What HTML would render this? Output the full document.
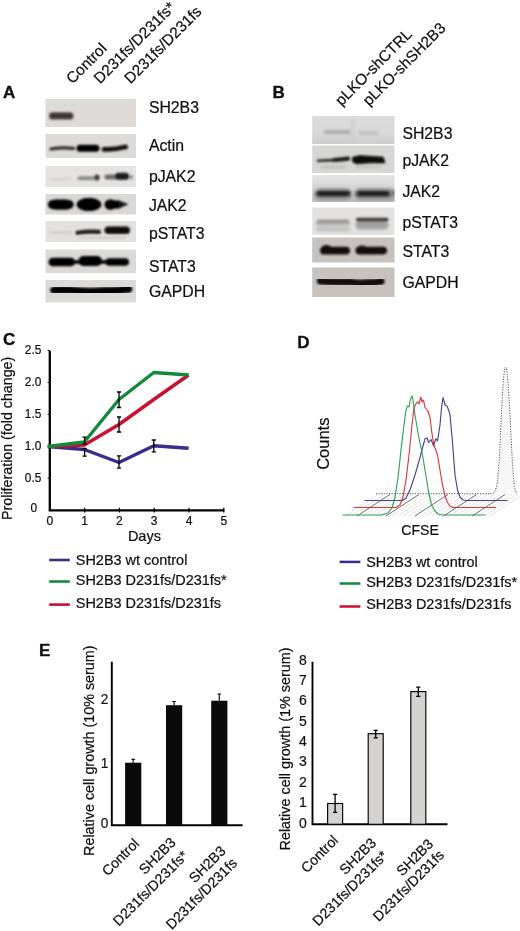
<!DOCTYPE html>
<html><head><meta charset="utf-8"><title>Figure</title>
<style>
html,body{margin:0;padding:0;background:#fff;width:520px;height:931px;overflow:hidden;}
svg{display:block;opacity:0.999;font-family:"Liberation Sans",Arial,sans-serif;fill:#111;}
text{stroke:#111;stroke-width:0.22px;}
.b{font-weight:bold;stroke:#111;stroke-width:0.35px;}
</style></head><body>
<svg width="520" height="931" viewBox="0 0 520 931">
<defs>
<filter id="bl" x="-20%" y="-50%" width="140%" height="200%"><feGaussianBlur stdDeviation="1.1"/></filter>
<filter id="bl2" x="-20%" y="-80%" width="140%" height="260%"><feGaussianBlur stdDeviation="1.8"/></filter>
<filter id="bl3" x="-20%" y="-80%" width="140%" height="260%"><feGaussianBlur stdDeviation="0.7"/></filter>
<linearGradient id="gj" x1="0" y1="0" x2="0" y2="1"><stop offset="0" stop-color="#e6e6e6"/><stop offset="0.45" stop-color="#d6d6d6"/><stop offset="1" stop-color="#bcbcbc"/></linearGradient>
<linearGradient id="g1" x1="0" y1="0" x2="0" y2="1"><stop offset="0" stop-color="#dcdcdc"/><stop offset="0.6" stop-color="#d8d8d8"/><stop offset="1" stop-color="#cdcdcd"/></linearGradient>
</defs>
<rect width="520" height="931" fill="#fff"/>

<text class="b" x="3" y="98" font-size="17">A</text>
<text transform="translate(72.5,84.5) rotate(-45)" font-size="15.4">Control</text>
<text transform="translate(100,84.5) rotate(-45)" font-size="15.4">D231fs/D231fs*</text>
<text transform="translate(130.5,84.5) rotate(-45)" font-size="15.4">D231fs/D231fs</text>
<clipPath id="a1"><rect x="45.5" y="99" width="90.5" height="28"/></clipPath>
<rect x="45.5" y="99" width="90.5" height="28" fill="#dedad8"/>
<g clip-path="url(#a1)">
<g filter="url(#bl)">
<rect x="49" y="112.30" width="24.50" height="7.2" rx="3.60" fill="#4c4442" opacity="1"/>
<rect x="51" y="114.30" width="21.00" height="3.4" rx="1.70" fill="#3a3230" opacity="1"/>
</g>
</g>
<clipPath id="a2"><rect x="45.5" y="134" width="90.5" height="24"/></clipPath>
<rect x="45.5" y="134" width="90.5" height="24" fill="#dddbd9"/>
<g clip-path="url(#a2)">
<g filter="url(#bl)">
<path d="M51,149 Q62,147 73.5,148.4" stroke="#2a2a2a" stroke-width="3.2" fill="none" stroke-linecap="round"/>
<rect x="76.5" y="144.80" width="23.00" height="7" rx="3.50" fill="#060606" opacity="1"/>
<path d="M104,149.3 Q114,149.8 125.5,147" stroke="#0a0a0a" stroke-width="4.8" fill="none" stroke-linecap="round"/>
</g>
</g>
<clipPath id="a3"><rect x="45.5" y="166" width="90.5" height="21"/></clipPath>
<rect x="45.5" y="166" width="90.5" height="21" fill="#e5e3e1"/>
<g clip-path="url(#a3)">
<g filter="url(#bl)">
<rect x="50" y="178.00" width="22.00" height="2" rx="1.00" fill="#d0cecc" opacity="1"/>
<rect x="77.5" y="176.30" width="21.50" height="4" rx="2.00" fill="#8d8d8d" opacity="1"/>
<ellipse cx="97" cy="177.6" rx="2.6" ry="3" fill="#3a3a3a" opacity="1"/>
<rect x="104.5" y="174.50" width="25.00" height="5" rx="2.50" fill="#6a6a6a" opacity="1"/>
<rect x="115" y="172.70" width="14.00" height="7" rx="3.50" fill="#1e1e1e" opacity="1"/>
<ellipse cx="131.5" cy="177" rx="0.9" ry="2.5" fill="#555" opacity="1"/>
</g>
</g>
<clipPath id="a4"><rect x="45.5" y="194" width="90.5" height="20.5"/></clipPath>
<rect x="45.5" y="194" width="90.5" height="20.5" fill="#dad8d6"/>
<g clip-path="url(#a4)">
<g filter="url(#bl)">
<rect x="48" y="200.25" width="25.50" height="8.5" rx="4.25" fill="#040404" opacity="1"/>
<ellipse cx="57.45" cy="204.5" rx="9.450000000000001" ry="5.25" fill="#040404" opacity="1"/>
<ellipse cx="64.05" cy="204.5" rx="9.450000000000001" ry="5.25" fill="#040404" opacity="1"/>
<rect x="78" y="198.75" width="22.00" height="11.5" rx="5.75" fill="#040404" opacity="1"/>
<ellipse cx="89.7" cy="204.5" rx="11.700000000000001" ry="6.5" fill="#040404" opacity="1"/>
<ellipse cx="88.3" cy="204.5" rx="11.700000000000001" ry="6.5" fill="#040404" opacity="1"/>
<ellipse cx="110.5" cy="204.5" rx="6" ry="5.3" fill="#040404" opacity="1"/>
<rect x="105" y="200.50" width="17.00" height="8" rx="4.00" fill="#040404" opacity="1"/>
<path d="M118,200.5 L128.5,204.3 L118,208.5 Z" fill="#080808"/>
</g>
</g>
<clipPath id="a5"><rect x="45.5" y="221" width="90.5" height="21"/></clipPath>
<rect x="45.5" y="221" width="90.5" height="21" fill="#e3e1df"/>
<g clip-path="url(#a5)">
<g filter="url(#bl)">
<rect x="50" y="231.70" width="22.00" height="1.6" rx="0.80" fill="#c2c0be" opacity="1"/>
<path d="M77.5,232.8 Q88,231 99,231.8" stroke="#1c1c1c" stroke-width="4.2" fill="none" stroke-linecap="round"/>
<rect x="104.5" y="226.40" width="25.50" height="7.6" rx="3.80" fill="#0c0c0c" opacity="1"/>
<rect x="78" y="236.80" width="48.00" height="1.6" rx="0.80" fill="#c9c7c5" opacity="1"/>
</g>
</g>
<clipPath id="a6"><rect x="45.5" y="249.5" width="90.5" height="23.5"/></clipPath>
<rect x="45.5" y="249.5" width="90.5" height="23.5" fill="#dcdad8"/>
<g clip-path="url(#a6)">
<g filter="url(#bl)">
<rect x="48.5" y="257.70" width="26.50" height="8.6" rx="4.30" fill="#060606" opacity="1"/>
<rect x="78.5" y="256.00" width="23.50" height="10" rx="5.00" fill="#060606" opacity="1"/>
<rect x="105.5" y="258.20" width="23.50" height="7.6" rx="3.80" fill="#060606" opacity="1"/>
<rect x="70" y="260.25" width="40.00" height="3.5" rx="1.75" fill="#060606" opacity="1"/>
</g>
</g>
<clipPath id="a7"><rect x="45.5" y="280" width="90.5" height="22.5"/></clipPath>
<rect x="45.5" y="280" width="90.5" height="22.5" fill="#dcdad8"/>
<g clip-path="url(#a7)">
<g filter="url(#bl)">
<path d="M54,290.2 Q64,289.3 77,290.8 Q90,292.3 104,290.8 Q118,291.3 128.5,289" stroke="#060606" stroke-width="7.6" fill="none" stroke-linecap="round"/>
</g>
</g>
<text x="148.9" y="112.7" font-size="15.8">SH2B3</text>
<text x="148.9" y="150.5" font-size="15.8">Actin</text>
<text x="148.9" y="181.7" font-size="15.8">pJAK2</text>
<text x="148.9" y="210.7" font-size="15.8">JAK2</text>
<text x="148.9" y="239.2" font-size="15.8">pSTAT3</text>
<text x="148.9" y="271.6" font-size="15.8">STAT3</text>
<text x="148.9" y="296.7" font-size="15.8">GAPDH</text>
<text class="b" x="272.6" y="98" font-size="17">B</text>
<text transform="translate(341.5,106.5) rotate(-45)" font-size="15.4">pLKO-shCTRL</text>
<text transform="translate(369,106.5) rotate(-45)" font-size="15.4">pLKO-shSH2B3</text>
<clipPath id="b1"><rect x="312.2" y="116" width="82.30000000000001" height="28"/></clipPath>
<rect x="312.2" y="116" width="82.30000000000001" height="28" fill="url(#g1)"/>
<g clip-path="url(#b1)">
<g filter="url(#bl2)">
<rect x="324" y="130.60" width="26.50" height="3.2" rx="1.60" fill="#a2a2a2" opacity="1"/>
<rect x="358.5" y="131.70" width="20.00" height="2.6" rx="1.30" fill="#b2b2b2" opacity="1"/>
<rect x="350.5" y="116.00" width="4.50" height="28" rx="14.00" fill="#c8c8c8" opacity="0.5"/>
</g>
</g>
<clipPath id="b2"><rect x="312.2" y="145.5" width="82.30000000000001" height="27.5"/></clipPath>
<rect x="312.2" y="145.5" width="82.30000000000001" height="27.5" fill="#d6d6d5"/>
<g clip-path="url(#b2)">
<g filter="url(#bl)">
<path d="M318,160.8 Q332,160.6 348.5,158.6" stroke="#262626" stroke-width="2.6" fill="none" stroke-linecap="round"/>
<path d="M334,160 Q342,159.6 348,158.6" stroke="#1c1c1c" stroke-width="4.2" fill="none" stroke-linecap="round"/>
<path d="M353,157.6 L360,156 L383,157.6 L384.5,162.5 L370,162.6 L356,163.4 L352.6,161 Z" fill="#080808" stroke="#080808" stroke-width="1.5" stroke-linejoin="round"/>
</g>
<g filter="url(#bl2)">
<rect x="321" y="166.10" width="25.00" height="1.8" rx="0.90" fill="#b4b4b4" opacity="1"/>
<rect x="356" y="165.70" width="24.00" height="1.8" rx="0.90" fill="#b4b4b4" opacity="1"/>
</g>
</g>
<clipPath id="b3"><rect x="312.2" y="175" width="82.30000000000001" height="27"/></clipPath>
<rect x="312.2" y="175" width="82.30000000000001" height="27" fill="url(#gj)"/>
<g clip-path="url(#b3)">
<g filter="url(#bl2)">
<rect x="314" y="187.90" width="38.00" height="13" rx="6.50" fill="#9a9a9a" opacity="0.8"/>
<rect x="354" y="187.90" width="43.00" height="13" rx="6.50" fill="#9a9a9a" opacity="0.8"/>
<rect x="315.5" y="190.30" width="35.50" height="7" rx="3.50" fill="#404040" opacity="1"/>
<rect x="355.5" y="190.30" width="35.50" height="7" rx="3.50" fill="#404040" opacity="1"/>
</g>
<g filter="url(#bl)">
<rect x="318" y="192.10" width="31.00" height="3" rx="1.50" fill="#1c1c1c" opacity="1"/>
<rect x="358" y="192.10" width="30.00" height="3" rx="1.50" fill="#1c1c1c" opacity="1"/>
<rect x="392.5" y="190.50" width="2.00" height="5" rx="2.50" fill="#555" opacity="1"/>
</g>
</g>
<clipPath id="b4"><rect x="312.2" y="207.5" width="82.30000000000001" height="27.5"/></clipPath>
<rect x="312.2" y="207.5" width="82.30000000000001" height="27.5" fill="#e3e1e0"/>
<g clip-path="url(#b4)">
<g filter="url(#bl2)">
<rect x="316" y="219.90" width="34.00" height="5" rx="2.50" fill="#a4a4a4" opacity="1"/>
<rect x="316" y="226.50" width="34.00" height="5" rx="2.50" fill="#c2c2c2" opacity="1"/>
<rect x="355.5" y="220.50" width="33.00" height="9" rx="4.50" fill="#a2a2a2" opacity="1"/>
</g>
<g filter="url(#bl)">
<rect x="356" y="217.80" width="32.50" height="3.6" rx="1.80" fill="#3c3c3c" opacity="1"/>
<rect x="318" y="220.20" width="30.00" height="1.6" rx="0.80" fill="#8c8c8c" opacity="1"/>
</g>
</g>
<clipPath id="b5"><rect x="312.2" y="237.5" width="82.30000000000001" height="25.0"/></clipPath>
<rect x="312.2" y="237.5" width="82.30000000000001" height="25.0" fill="#c8c2be"/>
<g clip-path="url(#b5)">
<g filter="url(#bl)">
<rect x="320" y="246.70" width="30.00" height="7.8" rx="3.90" fill="#140e0e" opacity="1"/>
<ellipse cx="326.5" cy="249.4" rx="5.5" ry="4.3" fill="#140e0e" opacity="1"/>
<rect x="355.5" y="246.80" width="31.50" height="7.6" rx="3.80" fill="#140e0e" opacity="1"/>
<ellipse cx="362" cy="249.6" rx="5.5" ry="4.2" fill="#140e0e" opacity="1"/>
</g>
</g>
<clipPath id="b6"><rect x="312.2" y="267.5" width="82.30000000000001" height="29.5"/></clipPath>
<rect x="312.2" y="267.5" width="82.30000000000001" height="29.5" fill="#c8c2be"/>
<g clip-path="url(#b6)">
<g filter="url(#bl)">
<path d="M320.5,281 Q333,282.4 350,281.8 Q357,284.2 366,282.8 Q376,282.8 381,281.2" stroke="#140e0e" stroke-width="7.4" fill="none" stroke-linecap="round"/>
</g>
</g>
<text x="402.4" y="138.9" font-size="15.8">SH2B3</text>
<text x="402.4" y="166" font-size="15.8">pJAK2</text>
<text x="402.4" y="197.4" font-size="15.8">JAK2</text>
<text x="402.4" y="228" font-size="15.8">pSTAT3</text>
<text x="402.4" y="257.4" font-size="15.8">STAT3</text>
<text x="402.4" y="288.1" font-size="15.8">GAPDH</text>
<text class="b" x="3" y="345" font-size="17">C</text>
<path d="M49.8,351 V510.3 H224.3" fill="none" stroke="#000" stroke-width="2.3"/>
<line x1="84.6" y1="507.8" x2="84.6" y2="512.6" stroke="#000" stroke-width="1.2"/>
<line x1="119.4" y1="507.8" x2="119.4" y2="512.6" stroke="#000" stroke-width="1.2"/>
<line x1="154.2" y1="507.8" x2="154.2" y2="512.6" stroke="#000" stroke-width="1.2"/>
<line x1="189.0" y1="507.8" x2="189.0" y2="512.6" stroke="#000" stroke-width="1.2"/>
<line x1="223.8" y1="507.8" x2="223.8" y2="512.6" stroke="#000" stroke-width="1.2"/>
<text x="37" y="511.8" font-size="11.9" text-anchor="end">0</text>
<line x1="47.599999999999994" y1="478.1" x2="49.8" y2="478.1" stroke="#000" stroke-width="1"/>
<text x="41.3" y="481.9" font-size="11.9" text-anchor="end">0.5</text>
<line x1="47.599999999999994" y1="446.2" x2="49.8" y2="446.2" stroke="#000" stroke-width="1"/>
<text x="41.3" y="450.0" font-size="11.9" text-anchor="end">1.0</text>
<line x1="47.599999999999994" y1="414.3" x2="49.8" y2="414.3" stroke="#000" stroke-width="1"/>
<text x="41.3" y="418.1" font-size="11.9" text-anchor="end">1.5</text>
<line x1="47.599999999999994" y1="382.4" x2="49.8" y2="382.4" stroke="#000" stroke-width="1"/>
<text x="41.3" y="386.2" font-size="11.9" text-anchor="end">2.0</text>
<line x1="47.599999999999994" y1="350.5" x2="49.8" y2="350.5" stroke="#000" stroke-width="1"/>
<text x="41.3" y="354.3" font-size="11.9" text-anchor="end">2.5</text>
<text x="49.8" y="524.6" font-size="12" text-anchor="middle">0</text>
<text x="84.6" y="524.6" font-size="12" text-anchor="middle">1</text>
<text x="119.4" y="524.6" font-size="12" text-anchor="middle">2</text>
<text x="154.2" y="524.6" font-size="12" text-anchor="middle">3</text>
<text x="189.0" y="524.6" font-size="12" text-anchor="middle">4</text>
<text x="223.8" y="524.6" font-size="12" text-anchor="middle">5</text>
<text x="144.4" y="540.8" font-size="14.5" text-anchor="middle">Days</text>
<text transform="translate(12,438.3) rotate(-90)" font-size="14.25" text-anchor="middle">Proliferation (fold change)</text>
<polyline points="47.8,446.5 84.3,449.5 119,462.5 153.8,445.8 188.6,448.2" fill="none" stroke="#3a2b8f" stroke-width="3.4" stroke-linejoin="round"/>
<polyline points="47.8,446.5 84.3,445 119,424.5 153.8,399.5 188.6,375" fill="none" stroke="#c9102f" stroke-width="3.4" stroke-linejoin="round"/>
<polyline points="47.8,446.5 84.3,442 119,399.5 153.8,372.5 188.6,375" fill="none" stroke="#128a3c" stroke-width="3.4" stroke-linejoin="round"/>
<path d="M84.6,437.2 V444.2 M82.5,437.2 H86.69999999999999 M82.5,444.2 H86.69999999999999" stroke="#000" stroke-width="1.3" fill="none"/>
<path d="M84.6,448.5 V456.2 M82.5,448.5 H86.69999999999999 M82.5,456.2 H86.69999999999999" stroke="#000" stroke-width="1.3" fill="none"/>
<path d="M119,392 V407.5 M116.9,392 H121.1 M116.9,407.5 H121.1" stroke="#000" stroke-width="1.3" fill="none"/>
<path d="M119,417 V432 M116.9,417 H121.1 M116.9,432 H121.1" stroke="#000" stroke-width="1.3" fill="none"/>
<path d="M119,455.8 V468.2 M116.9,455.8 H121.1 M116.9,468.2 H121.1" stroke="#000" stroke-width="1.3" fill="none"/>
<path d="M153.8,440 V451.8 M151.70000000000002,440 H155.9 M151.70000000000002,451.8 H155.9" stroke="#000" stroke-width="1.3" fill="none"/>
<line x1="49.2" y1="560" x2="69.8" y2="560" stroke="#3a2b8f" stroke-width="2.6"/>
<text x="75.8" y="564.8" font-size="14.45">SH2B3 wt control</text>
<line x1="49.2" y1="581.5" x2="69.8" y2="581.5" stroke="#128a3c" stroke-width="2.6"/>
<text x="75.8" y="585.2" font-size="14.45">SH2B3 D231fs/D231fs*</text>
<line x1="49.2" y1="604.6" x2="69.8" y2="604.6" stroke="#c9102f" stroke-width="2.6"/>
<text x="75.8" y="607.5" font-size="14.45">SH2B3 D231fs/D231fs</text>
<text class="b" x="297.3" y="348.3" font-size="17">D</text>
<text transform="translate(329,443.7) rotate(-90)" font-size="16.5" text-anchor="middle">Counts</text>
<text x="420" y="535.4" font-size="14.1" text-anchor="middle">CFSE</text>
<line x1="345.0" y1="516" x2="378.0" y2="494.5" stroke="#d0d0d0" stroke-width="0.6"/>
<line x1="350.8" y1="516" x2="383.8" y2="494.5" stroke="#d0d0d0" stroke-width="0.6"/>
<line x1="356.6" y1="516" x2="389.6" y2="494.5" stroke="#d0d0d0" stroke-width="0.6"/>
<line x1="362.4" y1="516" x2="395.4" y2="494.5" stroke="#d0d0d0" stroke-width="0.6"/>
<line x1="368.2" y1="516" x2="401.2" y2="494.5" stroke="#d0d0d0" stroke-width="0.6"/>
<line x1="374.0" y1="516" x2="407.0" y2="494.5" stroke="#d0d0d0" stroke-width="0.6"/>
<line x1="379.8" y1="516" x2="412.8" y2="494.5" stroke="#d0d0d0" stroke-width="0.6"/>
<line x1="385.6" y1="516" x2="418.6" y2="494.5" stroke="#d0d0d0" stroke-width="0.6"/>
<line x1="391.4" y1="516" x2="424.4" y2="494.5" stroke="#d0d0d0" stroke-width="0.6"/>
<line x1="397.2" y1="516" x2="430.2" y2="494.5" stroke="#d0d0d0" stroke-width="0.6"/>
<line x1="403.0" y1="516" x2="436.0" y2="494.5" stroke="#d0d0d0" stroke-width="0.6"/>
<line x1="408.8" y1="516" x2="441.8" y2="494.5" stroke="#d0d0d0" stroke-width="0.6"/>
<line x1="414.6" y1="516" x2="447.6" y2="494.5" stroke="#d0d0d0" stroke-width="0.6"/>
<line x1="420.4" y1="516" x2="453.4" y2="494.5" stroke="#d0d0d0" stroke-width="0.6"/>
<line x1="426.2" y1="516" x2="459.2" y2="494.5" stroke="#d0d0d0" stroke-width="0.6"/>
<line x1="432.0" y1="516" x2="465.0" y2="494.5" stroke="#d0d0d0" stroke-width="0.6"/>
<line x1="437.8" y1="516" x2="470.8" y2="494.5" stroke="#d0d0d0" stroke-width="0.6"/>
<line x1="443.6" y1="516" x2="476.6" y2="494.5" stroke="#d0d0d0" stroke-width="0.6"/>
<line x1="449.4" y1="516" x2="482.4" y2="494.5" stroke="#d0d0d0" stroke-width="0.6"/>
<line x1="455.2" y1="516" x2="488.2" y2="494.5" stroke="#d0d0d0" stroke-width="0.6"/>
<line x1="461.0" y1="516" x2="494.0" y2="494.5" stroke="#d0d0d0" stroke-width="0.6"/>
<line x1="466.8" y1="516" x2="499.8" y2="494.5" stroke="#d0d0d0" stroke-width="0.6"/>
<line x1="472.6" y1="516" x2="505.6" y2="494.5" stroke="#d0d0d0" stroke-width="0.6"/>
<line x1="478.4" y1="516" x2="511.4" y2="494.5" stroke="#d0d0d0" stroke-width="0.6"/>
<line x1="484.2" y1="516" x2="517.2" y2="494.5" stroke="#d0d0d0" stroke-width="0.6"/>
<line x1="490.0" y1="516" x2="523.0" y2="494.5" stroke="#d0d0d0" stroke-width="0.6"/>
<line x1="357" y1="516" x2="390" y2="494.5" stroke="#555" stroke-width="0.8"/>
<line x1="386" y1="516" x2="419" y2="494.5" stroke="#555" stroke-width="0.8"/>
<line x1="415" y1="516" x2="448" y2="494.5" stroke="#555" stroke-width="0.8"/>
<line x1="443.5" y1="516" x2="476.5" y2="494.5" stroke="#555" stroke-width="0.8"/>
<line x1="472" y1="516" x2="505" y2="494.5" stroke="#555" stroke-width="0.8"/>
<path d="M376,493.7 H492 C497,493 498,480 499.5,455 C501.5,415 503,368 505.6,367 C508,368 510,415 512,455 C513.5,480 514.5,492 517,493.5 Z" fill="#f7f7f7" stroke="none"/>
<path d="M376,493.7 H492 C497,493 498,480 499.5,455 C501.5,415 503,368 505.6,367 C508,368 510,415 512,455 C513.5,480 514.5,492 517,493.5" fill="none" stroke="#444" stroke-width="0.9" stroke-dasharray="1.2,1.4"/>
<polyline points="364.5,500.5 402.5,500.5 406,498 410,490 415,475 420,457.5 423,446 425,438.7 427,438 428.7,442.5 431,439.5 433.7,446 435,441 436,438.7 437.5,441 440,425 441.5,408 443,397.5 444,401 445,405 447,406 449,411 450,415 452.5,442.5 455,475 457.5,490 460,497 463,500 466,500.5 507.5,500.5" fill="none" stroke="#3a2b8f" stroke-width="1.15" stroke-linejoin="round" opacity="0.9"/>
<polyline points="353.7,507.5 396,507.5 400,505 403,497 406,480 409,455 412,425 414,408 416,403.7 417.5,402 419,404 420.7,397 422,402 423.5,400 425,407.5 428,411 430,417.5 431.5,430 433.7,445 435.5,449 437.5,455 440,470 442.5,485 445,496 447.5,502.5 450,506 453,507.5 496,507.5" fill="none" stroke="#d8232a" stroke-width="1.15" stroke-linejoin="round" opacity="0.9"/>
<polyline points="342.5,515 382,515 388,513 392,508 395,497 398,478 401,450 404,425 406,410 407.5,406 409,407 410.5,399 412,396 413,400 415,415 417.5,430 420,443 422.5,455 425,470 428.7,492.5 431.5,505 435,511 438,514 442,515 485.5,515" fill="none" stroke="#1a9a44" stroke-width="1.15" stroke-linejoin="round" opacity="0.9"/>
<line x1="339.6" y1="561.9" x2="360.4" y2="561.9" stroke="#3a2b8f" stroke-width="2.5"/>
<text x="366.2" y="566.5" font-size="14.45">SH2B3 wt control</text>
<line x1="339.6" y1="583.5" x2="360.4" y2="583.5" stroke="#128a3c" stroke-width="2.5"/>
<text x="366.2" y="587" font-size="14.45">SH2B3 D231fs/D231fs*</text>
<line x1="339.6" y1="606.5" x2="360.4" y2="606.5" stroke="#c9102f" stroke-width="2.5"/>
<text x="366.2" y="609.4" font-size="14.45">SH2B3 D231fs/D231fs</text>
<text class="b" x="38.9" y="655.8" font-size="17">E</text>
<path d="M111.8,661.7 V825.2 H242.6" fill="none" stroke="#000" stroke-width="1.9"/>
<text x="108.3" y="703.7" font-size="15.3" text-anchor="end" textLength="7.6" lengthAdjust="spacingAndGlyphs">2</text>
<text x="108.3" y="768.2" font-size="15.3" text-anchor="end" textLength="7.6" lengthAdjust="spacingAndGlyphs">1</text>
<text x="108.3" y="828.2" font-size="15.3" text-anchor="end" textLength="7.6" lengthAdjust="spacingAndGlyphs">0</text>
<text transform="translate(94.3,750.7) rotate(-90)" font-size="14.35" text-anchor="middle">Relative cell growth (10% serum)</text>
<rect x="125.1" y="762.7" width="16.2" height="62.5" fill="#0a0a0a"/>
<path d="M133.2,762.7 V759.3 M131.39999999999998,759.3 H135.0" stroke="#111" stroke-width="1.2" fill="none"/>
<rect x="166" y="705.2" width="16.2" height="120.0" fill="#0a0a0a"/>
<path d="M174.1,705.2 V701.5 M172.29999999999998,701.5 H175.9" stroke="#111" stroke-width="1.2" fill="none"/>
<rect x="211.2" y="700.7" width="16.2" height="124.5" fill="#0a0a0a"/>
<path d="M219.3,700.7 V694 M217.5,694 H221.10000000000002" stroke="#111" stroke-width="1.2" fill="none"/>
<text transform="translate(140,844.5) rotate(-45)" font-size="14.2" text-anchor="end">Control</text>
<text transform="translate(176.5,843.5) rotate(-45)" font-size="14.2" text-anchor="end">SH2B3</text>
<text transform="translate(189,856.5) rotate(-45)" font-size="14.2" text-anchor="end">D231fs/D231fs*</text>
<text transform="translate(226.5,852) rotate(-45)" font-size="14.2" text-anchor="end">SH2B3</text>
<text transform="translate(238,864) rotate(-45)" font-size="14.2" text-anchor="end">D231fs/D231fs</text>
<path d="M312.5,661.7 V824.3 H447.5" fill="none" stroke="#000" stroke-width="1.9"/>
<text x="306.8" y="827.5" font-size="15.3" text-anchor="end" textLength="7.8" lengthAdjust="spacingAndGlyphs">0</text>
<text x="306.8" y="807.1" font-size="15.3" text-anchor="end" textLength="7.8" lengthAdjust="spacingAndGlyphs">1</text>
<text x="306.8" y="786.8" font-size="15.3" text-anchor="end" textLength="7.8" lengthAdjust="spacingAndGlyphs">2</text>
<text x="306.8" y="766.4" font-size="15.3" text-anchor="end" textLength="7.8" lengthAdjust="spacingAndGlyphs">3</text>
<text x="306.8" y="746.0" font-size="15.3" text-anchor="end" textLength="7.8" lengthAdjust="spacingAndGlyphs">4</text>
<text x="306.8" y="725.6" font-size="15.3" text-anchor="end" textLength="7.8" lengthAdjust="spacingAndGlyphs">5</text>
<text x="306.8" y="705.3" font-size="15.3" text-anchor="end" textLength="7.8" lengthAdjust="spacingAndGlyphs">6</text>
<text x="306.8" y="684.9" font-size="15.3" text-anchor="end" textLength="7.8" lengthAdjust="spacingAndGlyphs">7</text>
<text x="306.8" y="664.5" font-size="15.3" text-anchor="end" textLength="7.8" lengthAdjust="spacingAndGlyphs">8</text>
<text transform="translate(289.7,749) rotate(-90)" font-size="14.38" text-anchor="middle">Relative cell growth (1% serum)</text>
<rect x="327.6" y="803.5" width="15.0" height="20.8" fill="#d5d3d1" stroke="#0a0a0a" stroke-width="1.2"/>
<path d="M335.1,794.3 V812.3 M333.0,794.3 H337.20000000000005 M333.0,812.3 H337.20000000000005" stroke="#000" stroke-width="1.3" fill="none"/>
<rect x="368.2" y="733.7" width="15.0" height="90.6" fill="#d5d3d1" stroke="#0a0a0a" stroke-width="1.2"/>
<path d="M375.7,730.4 V737.8 M373.59999999999997,730.4 H377.8 M373.59999999999997,737.8 H377.8" stroke="#000" stroke-width="1.3" fill="none"/>
<rect x="410.8" y="691.6" width="15.0" height="132.7" fill="#d5d3d1" stroke="#0a0a0a" stroke-width="1.2"/>
<path d="M418.3,687.2 V696.3 M416.2,687.2 H420.40000000000003 M416.2,696.3 H420.40000000000003" stroke="#000" stroke-width="1.3" fill="none"/>
<text transform="translate(339,841.3) rotate(-45)" font-size="14.2" text-anchor="end">Control</text>
<text transform="translate(377,843.8) rotate(-45)" font-size="14.2" text-anchor="end">SH2B3</text>
<text transform="translate(388.5,856.5) rotate(-45)" font-size="14.2" text-anchor="end">D231fs/D231fs*</text>
<text transform="translate(434,845) rotate(-45)" font-size="14.2" text-anchor="end">SH2B3</text>
<text transform="translate(445,856) rotate(-45)" font-size="14.2" text-anchor="end">D231fs/D231fs</text>
</svg></body></html>
